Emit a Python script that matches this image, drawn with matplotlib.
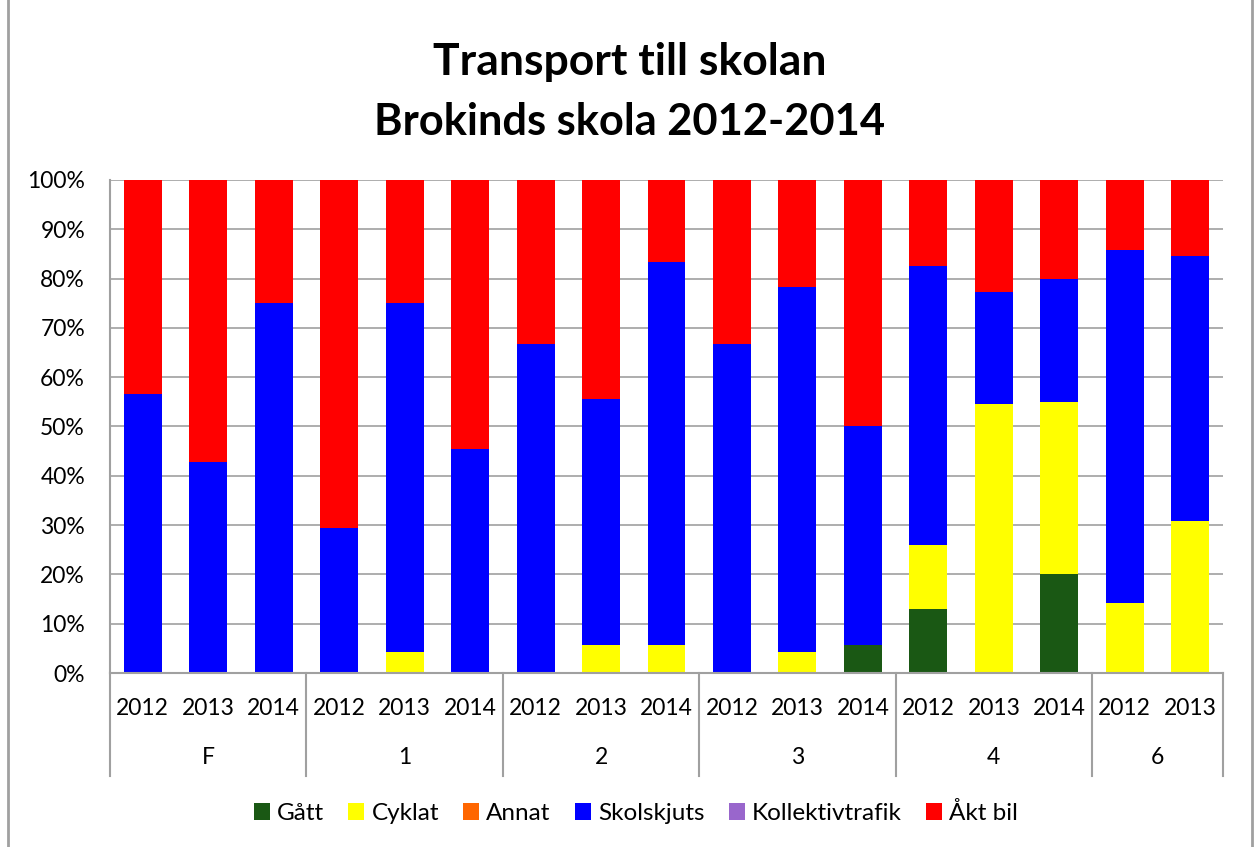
import numpy as np
import matplotlib
matplotlib.use("Agg")
import matplotlib.pyplot as plt
from matplotlib.lines import Line2D

plt.rcParams["font.family"] = ["Lato", "DejaVu Sans"]

groups = ["F", "1", "2", "3", "4", "6"]
years = [["2012", "2013", "2014"], ["2012", "2013", "2014"], ["2012", "2013", "2014"],
         ["2012", "2013", "2014"], ["2012", "2013", "2014"], ["2012", "2013"]]

series = ["Gått", "Cyklat", "Annat", "Skolskjuts", "Kollektivtrafik", "Åkt bil"]
colors = ["#1a5814", "#ffff00", "#ff6600", "#0000ff", "#9966cc", "#ff0000"]

gatt = [0, 0, 0, 0, 0, 0, 0, 0, 0, 0, 0, 5.6, 13.0, 0, 20.0, 0, 0]
cyklat = [0, 0, 0, 0, 4.2, 0, 0, 5.6, 5.6, 0, 4.3, 0, 13.0, 54.5, 35.0, 14.3, 30.8]
annat = [0] * 17
skolskjuts = [56.5, 42.9, 75.0, 29.4, 70.8, 45.5, 66.7, 50.0, 77.7, 66.7, 74.0, 44.4,
              56.6, 22.8, 25.0, 71.4, 53.8]
kollektiv = [0] * 17
akt_bil = [43.5, 57.1, 25.0, 70.6, 25.0, 54.5, 33.3, 44.4, 16.7, 33.3, 21.7, 50.0,
           17.4, 22.7, 20.0, 14.3, 15.4]
values = [gatt, cyklat, annat, skolskjuts, kollektiv, akt_bil]

fig = plt.figure(figsize=(12.59, 8.47), dpi=100)
ax = fig.add_axes([110 / 1259, 1 - 673 / 847, (1223 - 110) / 1259, (673 - 180) / 847])

n = len(gatt)
x = np.arange(n)
bottom = np.zeros(n)
for name, col, vals in zip(series, colors, values):
    v = np.array(vals, float)
    ax.bar(x, v, 0.58, bottom=bottom, color=col, label=name, linewidth=0, zorder=2)
    bottom += v

ax.set_xlim(-0.5, n - 0.5)
ax.set_ylim(0, 100)
ax.set_yticks(np.arange(0, 101, 10))
ax.set_yticklabels([f"{t}%" for t in range(0, 101, 10)], fontsize=16.5)
ax.yaxis.grid(True, color="#a0a0a0", linewidth=1.2, zorder=0)
ax.set_axisbelow(True)
ax.tick_params(axis="y", length=0, pad=18)

flat_years = [y for g in years for y in g]
ax.set_xticks(x)
ax.set_xticklabels(flat_years, fontsize=16.5)
ax.tick_params(axis="x", length=0, pad=18)

for s in ["top", "right"]:
    ax.spines[s].set_visible(False)
for s in ["left", "bottom"]:
    ax.spines[s].set_color("#a0a0a0")
    ax.spines[s].set_linewidth(1.5)

# group labels and separators under the category axis
tr = ax.get_xaxis_transform()
start = 0
bounds = [-0.5]
for g, ys in zip(groups, years):
    end = start + len(ys)
    ax.text((start + end - 1) / 2, -0.172, g, transform=tr, ha="center", va="center",
            fontsize=16.5)
    bounds.append(end - 0.5)
    start = end
for b in bounds:
    ax.plot([b, b], [0, -0.209], transform=tr, color="#a0a0a0", lw=1.5, clip_on=False)

fig.text(0.5, 1 - 62 / 847, "Transport till skolan", ha="center", va="center",
         fontsize=32, fontweight="bold")
fig.text(0.5, 1 - 122 / 847, "Brokinds skola 2012-2014", ha="center", va="center",
         fontsize=31.2, fontweight="bold")

handles, labels = ax.get_legend_handles_labels()
fig.legend(handles, labels, loc="center", bbox_to_anchor=(636 / 1259, 1 - 813 / 847),
           ncol=6, frameon=False, fontsize=17.5, handlelength=0.65, handleheight=0.65,
           handletextpad=0.3, columnspacing=1.0)

for xp in [8, 1252]:
    fig.add_artist(Line2D([xp / 1259, xp / 1259], [0, 1], color="#a0a0a0", lw=2))

fig.savefig("out.png", dpi=100, facecolor="white")
